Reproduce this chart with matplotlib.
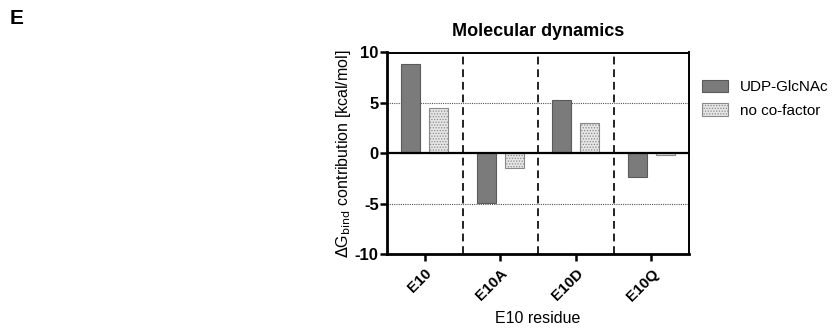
import matplotlib
matplotlib.use("Agg")
import matplotlib.pyplot as plt
import numpy as np

plt.rcParams['font.family'] = ['Liberation Sans', 'DejaVu Sans']
plt.rcParams['hatch.linewidth'] = 0.6

categories = ["E10", "E10A", "E10D", "E10Q"]
udp_glcnac = [8.9, -4.95, 5.3, -2.4]
no_cofactor = [4.45, -1.45, 3.0, -0.2]
series_names = ["UDP-GlcNAc", "no co-factor"]
yticks = [-10, -5, 0, 5, 10]

fig = plt.figure(figsize=(8.36, 3.28), dpi=100)
ax = fig.add_axes([387/836, 1-254/328, (689-387)/836, (254-52.5)/328])

x = np.arange(len(categories))
w = 0.25
off = 0.185
ax.bar(x - off, udp_glcnac, w, color='#7b7b7b', edgecolor='#5a5a5a', linewidth=0.8,
       label=series_names[0], zorder=3)
ax.bar(x + off, no_cofactor, w, color='#e6e6e6', edgecolor='#8a8a8a', linewidth=0.8,
       hatch='......', label=series_names[1], zorder=3)

ax.set_xlim(-0.5, len(categories) - 0.5)
ax.set_ylim(-10, 10)
ax.set_yticks(yticks)
ax.set_yticklabels([str(t) for t in yticks], fontweight='bold', fontsize=12)
ax.set_xticks(x)
ax.set_xticklabels(categories, rotation=45, ha='right', rotation_mode='anchor',
                   fontweight='bold', fontsize=11)

for yv in [-5, 5]:
    ax.axhline(yv, color='#555555', linestyle=(0, (1, 1)), linewidth=0.8, zorder=1)
ax.axhline(0, color='black', linewidth=1.6, zorder=4)
for xv in x[:-1] + 0.5:
    ax.axvline(xv, color='#222222', linestyle=(0, (4, 2.5)), linewidth=1.4, zorder=2)

for s in ['left', 'bottom']:
    ax.spines[s].set_linewidth(2.0)
for s in ['top', 'right']:
    ax.spines[s].set_linewidth(1.4)
ax.tick_params(axis='both', width=1.8, length=5, direction='out')
ax.tick_params(axis='x', pad=4)
ax.tick_params(axis='y', pad=1)

ax.set_xlabel("E10 residue", fontsize=11.5, labelpad=5)
ax.set_ylabel(r"$\Delta$G$_{\mathrm{bind}}$ contribution [kcal/mol]", fontsize=11.5, labelpad=1)
ax.set_title("Molecular dynamics", fontsize=13, fontweight='bold', pad=12)

leg = ax.legend(loc='upper left', bbox_to_anchor=(1.042, 0.865), frameon=False,
                fontsize=11, handlelength=1.7, handleheight=0.9, handletextpad=0.8,
                labelspacing=0.6, borderaxespad=0, borderpad=0)

fig.text(10/836, 1-18/328, "E", fontsize=15, fontweight='bold', va='center', ha='left')

fig.savefig("out.png", dpi=100)
